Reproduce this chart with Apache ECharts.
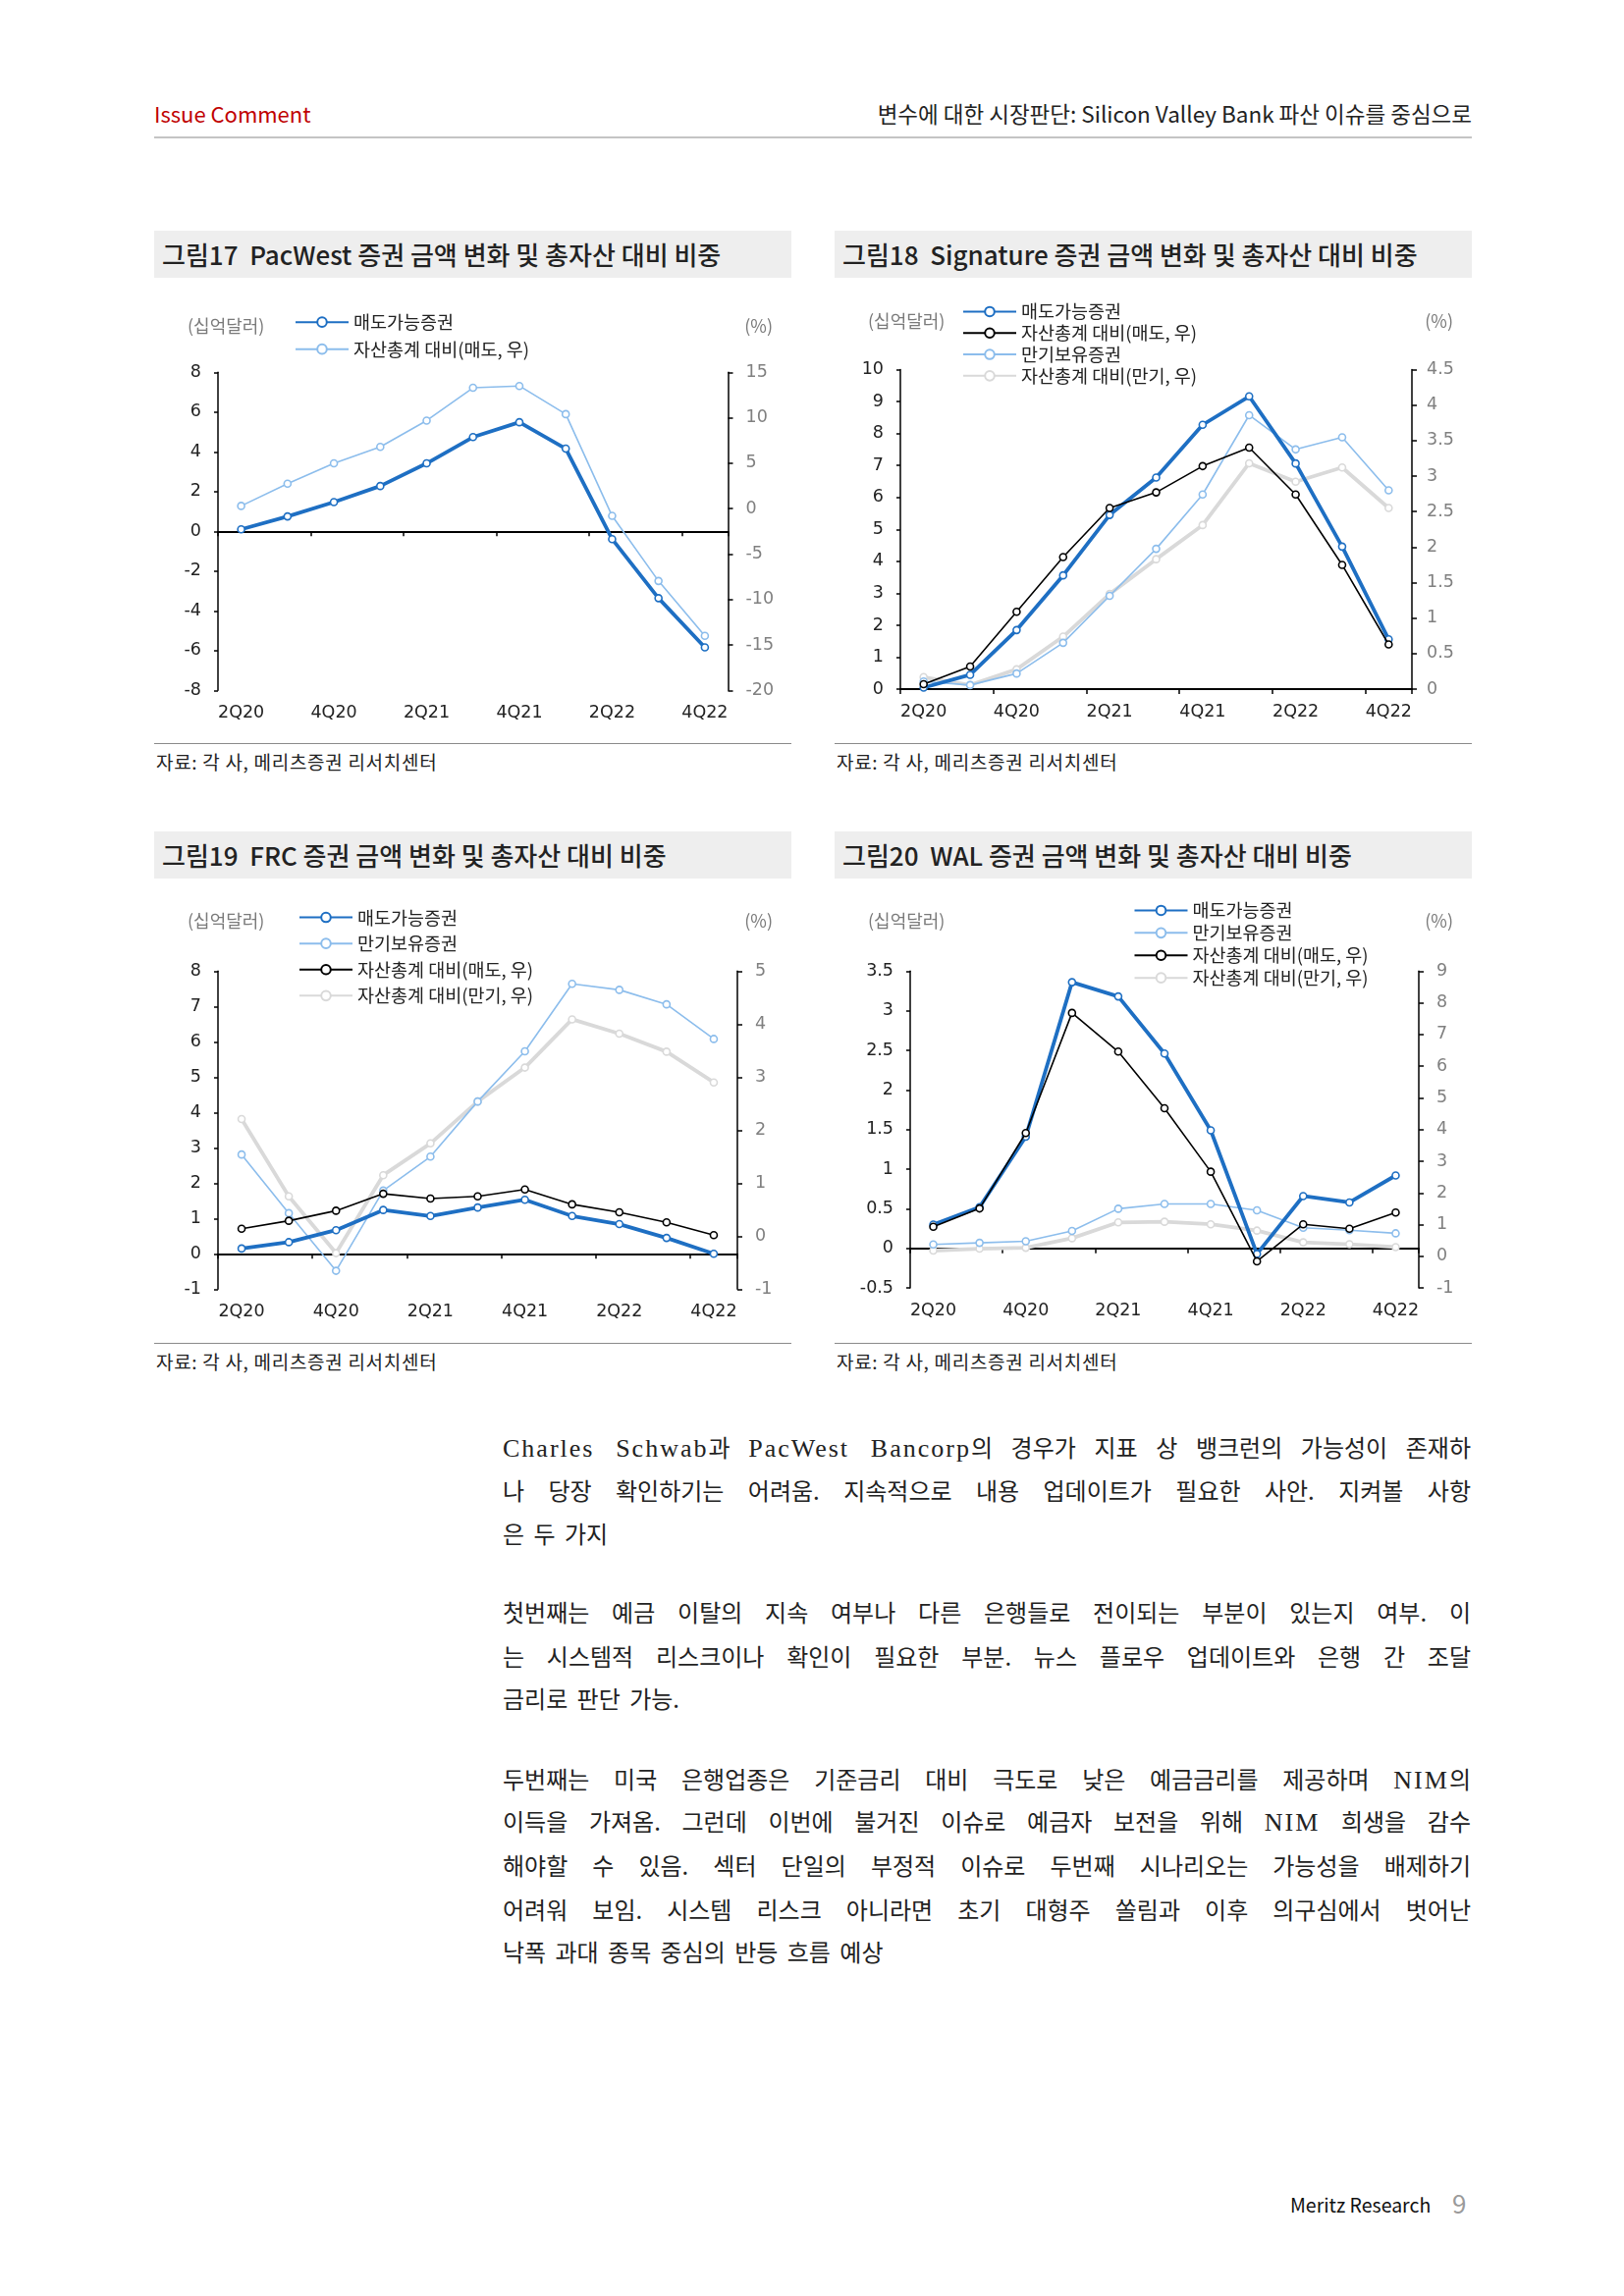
<!DOCTYPE html>
<html><head><meta charset="utf-8">
<script src="https://cdn.jsdelivr.net/npm/echarts/dist/echarts.min.js"></script>
<style>
html,body{margin:0;padding:0;background:#fff}
body{width:1654px;height:2339px;position:relative;overflow:hidden;font-family:"Noto Sans CJK KR","Noto Sans",sans-serif;color:#222}
.abs{position:absolute;white-space:nowrap}
.tbox{position:absolute;width:649px;height:48px;background:#eeeeee;font-size:26px;line-height:48px;font-weight:500;color:#222;box-sizing:border-box;padding-left:8px;white-space:pre}
.src{position:absolute;font-size:19px;line-height:22px;color:#222;white-space:nowrap;letter-spacing:0.7px}
.sep{position:absolute;width:649px;height:1px;background:#8a8a8a}
.ch{position:absolute;width:649px;height:470px}
.bl{position:absolute;left:512px;width:986px;font-family:"Noto Sans CJK KR",serif;font-size:24px;line-height:44px;color:#222;word-spacing:4px;white-space:nowrap}
.lt{font-family:"Liberation Serif",serif;font-size:26px;letter-spacing:2px}
.j{text-align:justify;text-align-last:justify;white-space:normal}
</style>
</head><body>

<div class="abs" style="left:157px;top:101px;font-size:22px;line-height:28px;color:#c00000">Issue Comment</div>
<div class="abs" style="right:155px;top:101px;font-size:22.5px;line-height:28px;color:#222">변수에 대한 시장판단: Silicon Valley Bank 파산 이슈를 중심으로</div>
<div class="abs" style="left:157px;top:139px;width:1342px;height:2px;background:#c4c4c4"></div>

<div class="tbox" style="left:157px;top:235px">그림17  PacWest 증권 금액 변화 및 총자산 대비 비중</div>
<div class="tbox" style="left:850px;top:235px">그림18  Signature 증권 금액 변화 및 총자산 대비 비중</div>
<div class="tbox" style="left:157px;top:847px">그림19  FRC 증권 금액 변화 및 총자산 대비 비중</div>
<div class="tbox" style="left:850px;top:847px">그림20  WAL 증권 금액 변화 및 총자산 대비 비중</div>

<div id="c17" class="ch" style="left:157px;top:283px"></div>
<div id="c18" class="ch" style="left:850px;top:283px"></div>
<div id="c19" class="ch" style="left:157px;top:895px"></div>
<div id="c20" class="ch" style="left:850px;top:895px"></div>

<div class="sep" style="left:157px;top:757px"></div>
<div class="sep" style="left:850px;top:757px"></div>
<div class="sep" style="left:157px;top:1368px"></div>
<div class="sep" style="left:850px;top:1368px"></div>
<div class="src" style="left:159px;top:765px">자료: 각 사, 메리츠증권 리서치센터</div>
<div class="src" style="left:852px;top:765px">자료: 각 사, 메리츠증권 리서치센터</div>
<div class="src" style="left:159px;top:1376px">자료: 각 사, 메리츠증권 리서치센터</div>
<div class="src" style="left:852px;top:1376px">자료: 각 사, 메리츠증권 리서치센터</div>

<div class="bl j" style="top:1452px"><span class="lt">Charles Schwab</span>과 <span class="lt">PacWest Bancorp</span>의 경우가 지표 상 뱅크런의 가능성이 존재하</div>
<div class="bl j" style="top:1496px">나 당장 확인하기는 어려움. 지속적으로 내용 업데이트가 필요한 사안. 지켜볼 사항</div>
<div class="bl" style="top:1540px">은 두 가지</div>
<div class="bl j" style="top:1620px">첫번째는 예금 이탈의 지속 여부나 다른 은행들로 전이되는 부분이 있는지 여부. 이</div>
<div class="bl j" style="top:1665px">는 시스템적 리스크이나 확인이 필요한 부분. 뉴스 플로우 업데이트와 은행 간 조달</div>
<div class="bl" style="top:1708px">금리로 판단 가능.</div>
<div class="bl j" style="top:1790px">두번째는 미국 은행업종은 기준금리 대비 극도로 낮은 예금금리를 제공하며 <span class="lt">NIM</span>의</div>
<div class="bl j" style="top:1833px">이득을 가져옴. 그런데 이번에 불거진 이슈로 예금자 보전을 위해 <span class="lt">NIM</span> 희생을 감수</div>
<div class="bl j" style="top:1878px">해야할 수 있음. 섹터 단일의 부정적 이슈로 두번째 시나리오는 가능성을 배제하기</div>
<div class="bl j" style="top:1923px">어려워 보임. 시스템 리스크 아니라면 초기 대형주 쏠림과 이후 의구심에서 벗어난</div>
<div class="bl" style="top:1966px">낙폭 과대 종목 중심의 반등 흐름 예상</div>

<div class="abs" style="left:1314px;top:2234px;font-size:19.5px;line-height:24px;color:#111">Meritz Research</div>
<div class="abs" style="left:1479px;top:2229px;font-size:26px;line-height:30px;color:#9a9a9a">9</div>

<script>
// ---------- DATA ----------
const quarters = ['2Q20','3Q20','4Q20','1Q21','2Q21','3Q21','4Q21','1Q22','2Q22','3Q22','4Q22'];

// 그림17 PacWest
const pw_afs      = [0.1, 0.75, 1.47, 2.28, 3.42, 4.74, 5.49, 4.16, -0.39, -3.36, -5.84];
const pw_afsRatio = [0.3, 2.74, 4.98, 6.8, 9.69, 13.3, 13.5, 10.4, -0.8, -7.96, -14.0];

// 그림18 Signature
const sg_afs      = [0.05, 0.45, 1.85, 3.56, 5.45, 6.62, 8.27, 9.16, 7.06, 4.46, 1.56];
const sg_afsRatio = [0.07, 0.32, 1.09, 1.86, 2.55, 2.77, 3.14, 3.40, 2.74, 1.75, 0.63];
const sg_htm      = [0.24, 0.13, 0.49, 1.45, 2.92, 4.39, 6.09, 8.57, 7.50, 7.88, 6.22];
const sg_htmRatio = [0.17, 0.06, 0.28, 0.74, 1.34, 1.83, 2.31, 3.18, 2.92, 3.12, 2.55];

// 그림19 FRC
const fr_afs      = [0.15, 0.33, 0.67, 1.24, 1.07, 1.31, 1.53, 1.07, 0.84, 0.45, 0.0];
const fr_htm      = [2.81, 1.15, -0.48, 1.79, 2.75, 4.31, 5.73, 7.64, 7.47, 7.06, 6.08];
const fr_afsRatio = [0.14, 0.29, 0.48, 0.80, 0.71, 0.75, 0.88, 0.60, 0.45, 0.26, 0.02];
const fr_htmRatio = [2.21, 0.75, -0.32, 1.15, 1.75, 2.54, 3.18, 4.09, 3.82, 3.48, 2.90];

// 그림20 WAL
const wa_afs      = [0.30, 0.52, 1.41, 3.36, 3.18, 2.46, 1.49, -0.07, 0.66, 0.58, 0.92];
const wa_htm      = [0.05, 0.07, 0.09, 0.22, 0.50, 0.56, 0.56, 0.48, 0.26, 0.23, 0.19];
const wa_afsRatio = [0.93, 1.51, 3.89, 7.68, 6.46, 4.67, 2.67, -0.16, 1.01, 0.87, 1.38];
const wa_htmRatio = [0.18, 0.24, 0.27, 0.57, 1.07, 1.09, 1.01, 0.81, 0.44, 0.38, 0.29];

const N_AFS = '매도가능증권';
const N_HTM = '만기보유증권';
const N_AFSR = '자산총계 대비(매도, 우)';
const N_HTMR = '자산총계 대비(만기, 우)';

// ---------- STYLE ----------
const FONT = '"Noto Sans CJK KR","Noto Sans",sans-serif';
const NUMFONT = '"DejaVu Sans","Noto Sans",sans-serif';
const C_BLUE = '#1e6fc3', C_LBLUE = '#8cbdec', C_BLACK = '#000000', C_GRAY = '#d9d9d9';

function line(name, data, yIdx, color, width, z){
  return {type:'line', name:name, data:data, xAxisIndex:0, yAxisIndex:yIdx, z:z,
    symbol:'circle', symbolSize:7, showSymbol:true,
    lineStyle:{color:color, width:width},
    itemStyle:{color:'#ffffff', borderColor:color, borderWidth:1.6},
    emphasis:{disabled:true}, animation:false};
}

function build(el, cfg){
  const ch = echarts.init(document.getElementById(el), null, {renderer:'canvas'});
  const axLine = {show:true, lineStyle:{color:'#000', width:1.5}};
  const opt = {
    animation:false,
    textStyle:{fontFamily:FONT},
    grid:Object.assign({outerBoundsMode:'none', containLabel:false}, cfg.grid),
    legend:{orient:'vertical', left:cfg.legend.left, top:cfg.legend.top, itemGap:cfg.legend.gap, padding:0,
      itemWidth:54, itemHeight:12, data:cfg.legend.data, selectedMode:false,
      textStyle:{fontSize:18.5, color:'#222', fontFamily:FONT}},
    graphic:[
      {type:'text', left:cfg.unitL, top:cfg.unitY-10.5, style:{text:'(십억달러)', fill:'#7a7a7a', font:'18px '+FONT}},
      {type:'text', right:19, top:cfg.unitY-10.5, style:{text:'(%)', fill:'#7a7a7a', font:'18px '+FONT}}
    ],
    xAxis:[
      {type:'category', data:quarters, position:'bottom', boundaryGap:true,
        axisLine:{show:false, onZero:false}, axisTick:{show:false}, splitLine:{show:false},
        axisLabel:{interval:1, margin:cfg.xMargin, fontSize:17.5, color:'#222', fontFamily:NUMFONT}},
      {type:'category', data:quarters, position:'bottom', boundaryGap:true,
        axisLine:{show:true, onZero:true, onZeroAxisIndex:0, lineStyle:{color:'#000', width:1.8}},
        axisTick:{show:true, interval:1, length:5, inside:false, lineStyle:{color:'#000', width:1.5}},
        axisLabel:{show:false}, splitLine:{show:false}}
    ],
    yAxis:[
      {type:'value', position:'left', min:cfg.yl[0], max:cfg.yl[1], interval:cfg.yl[2],
        axisLine:axLine, axisTick:{show:true, length:4, lineStyle:{color:'#000', width:1.5}},
        splitLine:{show:false}, axisLabel:{margin:17, fontSize:17.5, color:'#222', fontFamily:NUMFONT}},
      {type:'value', position:'right', min:cfg.yr[0], max:cfg.yr[1], interval:cfg.yr[2],
        axisLine:axLine, axisTick:{show:true, length:5, lineStyle:{color:'#000', width:1.5}},
        splitLine:{show:false}, axisLabel:{margin:cfg.rMargin||16, fontSize:17.5, color:'#808080', fontFamily:NUMFONT}}
    ],
    series:cfg.series
  };
  ch.setOption(opt);
}

build('c17', {
  grid:{left:65, top:96.3, width:519.5, height:324},
  legend:{left:143, top:35.9, gap:9, data:[N_AFS, N_AFSR]},
  unitL:34, unitY:50.6, xMargin:14,
  yl:[-8,8,2], yr:[-20,15,5], rMargin:18,
  series:[
    line(N_AFSR, pw_afsRatio, 1, C_LBLUE, 1.6, 2),
    line(N_AFS, pw_afs, 0, C_BLUE, 3.8, 3)
  ]
});

build('c18', {
  grid:{left:67, top:93.4, width:521, height:325.7},
  legend:{left:130, top:25.2, gap:3.3, data:[N_AFS, N_AFSR, N_HTM, N_HTMR]},
  unitL:34, unitY:45.2, xMargin:14,
  yl:[0,10,1], yr:[0,4.5,0.5], rMargin:15,
  series:[
    line(N_HTMR, sg_htmRatio, 1, C_GRAY, 3.8, 1),
    line(N_HTM, sg_htm, 0, C_LBLUE, 1.6, 2),
    line(N_AFS, sg_afs, 0, C_BLUE, 3.8, 3),
    line(N_AFSR, sg_afsRatio, 1, C_BLACK, 1.6, 4)
  ]
});

build('c19', {
  grid:{left:65, top:94.3, width:529, height:324},
  legend:{left:147, top:30.3, gap:8.1, data:[N_AFS, N_HTM, N_AFSR, N_HTMR]},
  unitL:34, unitY:45, xMargin:14,
  yl:[-1,8,1], yr:[-1,5,1], rMargin:18,
  series:[
    line(N_HTMR, fr_htmRatio, 1, C_GRAY, 3.8, 1),
    line(N_HTM, fr_htm, 0, C_LBLUE, 1.6, 2),
    line(N_AFS, fr_afs, 0, C_BLUE, 3.8, 3),
    line(N_AFSR, fr_afsRatio, 1, C_BLACK, 1.6, 4)
  ]
});

build('c20', {
  grid:{left:77, top:94.3, width:518, height:322.8},
  legend:{left:304.5, top:23.2, gap:4.4, data:[N_AFS, N_HTM, N_AFSR, N_HTMR]},
  unitL:34, unitY:45, xMargin:14,
  yl:[-0.5,3.5,0.5], yr:[-1,9,1], rMargin:18,
  series:[
    line(N_HTMR, wa_htmRatio, 1, C_GRAY, 3.8, 1),
    line(N_HTM, wa_htm, 0, C_LBLUE, 1.6, 2),
    line(N_AFS, wa_afs, 0, C_BLUE, 3.8, 3),
    line(N_AFSR, wa_afsRatio, 1, C_BLACK, 1.6, 4)
  ]
});
</script>
</body></html>
